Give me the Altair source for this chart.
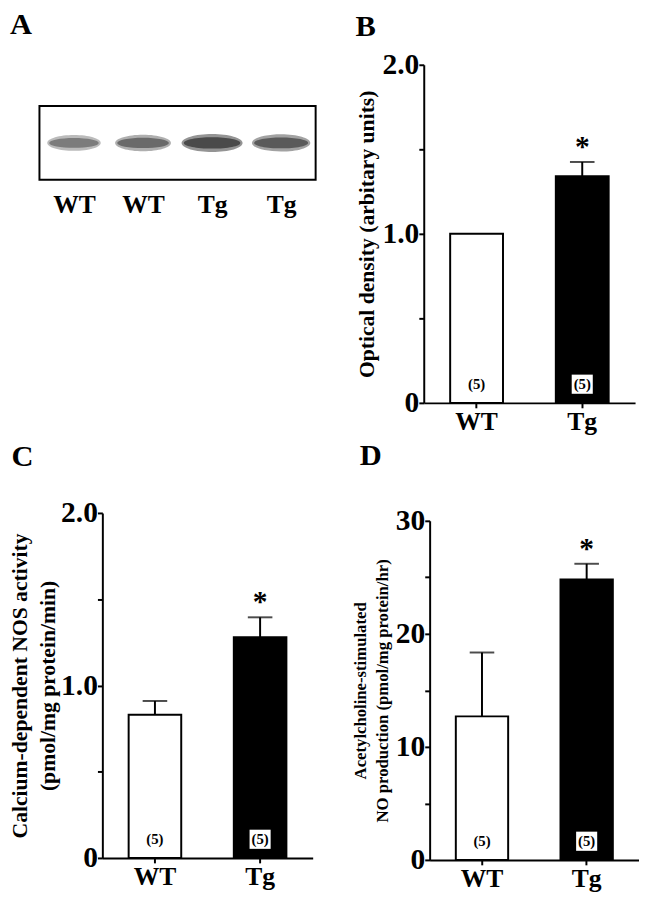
import json
import altair as alt
import pandas as pd

# ---------------- data ----------------
groups = ["WT", "Tg"]
n_labels = ["(5)", "(5)"]
sig_marks = ["", "*"]

od_mean = [1.00, 1.34]
od_sem = [0.00, 0.085]

nos_mean = [0.83, 1.28]
nos_sem = [0.08, 0.115]

no_mean = [12.7, 24.8]
no_sem = [5.65, 1.4]

lane_ids = [1, 2, 3, 4]
lane_labels = ["WT", "WT", "Tg", "Tg"]
band_density = [0.60, 0.72, 1.00, 0.85]

FONT = "Liberation Serif"


def letter_title(letter, dx=0, offset=10):
    return alt.TitleParams(letter, anchor="start", font=FONT, fontWeight="bold",
                           fontSize=31, color="black", dx=dx, offset=offset)


def bar_panel(letter, mean, sem, ymax, tick_vals, label_expr, ytitle, tsize, tlh,
              w, h, tpad, t_dx, t_off):
    df = pd.DataFrame({
        "group": groups,
        "mean": mean,
        "sem": sem,
        "top": [m + s for m, s in zip(mean, sem)],
        "n": n_labels,
        "sig": sig_marks,
    })
    xenc = alt.X("group:N", sort=groups,
                 scale=alt.Scale(paddingInner=0.5, paddingOuter=0.25),
                 axis=alt.Axis(title=None, labelAngle=0, labelFont=FONT,
                               labelFontWeight="bold", labelFontSize=26,
                               labelColor="black", domainColor="black",
                               domainWidth=2, tickColor="black", tickWidth=2,
                               tickSize=5, labelPadding=1))
    yscale = alt.Scale(domain=[0, ymax], nice=False)
    yaxis = alt.Axis(values=tick_vals, labelExpr=label_expr, title=ytitle,
                     titleFont=FONT, titleFontWeight="bold", titleFontSize=tsize,
                     titleLineHeight=tlh,
                     titleColor="black", titlePadding=tpad,
                     labelFont=FONT, labelFontWeight="bold", labelFontSize=30,
                     labelColor="black", labelPadding=0, labelOverlap=False,
                     domainColor="black", domainWidth=2, tickColor="black",
                     tickWidth=2, tickSize=5, grid=False)
    base = alt.Chart(df)
    bars = base.mark_bar(stroke="black", strokeWidth=2).encode(
        x=xenc,
        y=alt.Y("mean:Q", scale=yscale, axis=yaxis),
        fill=alt.Fill("group:N", scale=alt.Scale(domain=groups, range=["white", "black"]),
                      legend=None),
    )
    err = base.transform_filter("datum.sem > 0").mark_rule(color="black", strokeWidth=2).encode(
        x=xenc, y=alt.Y("mean:Q", scale=yscale, axis=yaxis), y2="top:Q")
    cap = base.transform_filter("datum.sem > 0").mark_tick(color="black", thickness=2, size=25).encode(
        x=xenc, y=alt.Y("top:Q", scale=yscale, axis=yaxis))
    box = base.transform_filter("datum.group == 'Tg'").mark_point(
        shape="M-1.1,-1L1.1,-1L1.1,1L-1.1,1Z", filled=True, fill="white",
        opacity=1, size=380, strokeWidth=0, yOffset=-19).encode(
        x=xenc, y=alt.Y(datum=0, scale=yscale, axis=yaxis))
    ntext = base.mark_text(font=FONT, fontWeight="bold", fontSize=15, color="black",
                           baseline="middle", dy=-19).encode(
        x=xenc, y=alt.Y(datum=0, scale=yscale, axis=yaxis), text="n:N")
    star = base.mark_text(font=FONT, fontWeight="bold", fontSize=30, color="black",
                          baseline="alphabetic", dy=-6).encode(
        x=xenc, y=alt.Y("top:Q", scale=yscale, axis=yaxis), text="sig:N")
    return alt.layer(bars, err, cap, box, ntext, star).properties(
        width=w, height=h, title=letter_title(letter, t_dx, t_off))


def spacer():
    return alt.Chart(pd.DataFrame({"v": [0]})).mark_point(
        opacity=0, size=0, strokeWidth=0).properties(width=1, height=1)


# ---------------- panel A : blot ----------------
bdf = pd.DataFrame({"lane": lane_ids, "label": lane_labels, "density": band_density})
xb = alt.X("lane:O", scale=alt.Scale(paddingInner=0, paddingOuter=0.2),
           axis=alt.Axis(title=None, labelAngle=0, domain=False, ticks=False,
                         labelExpr="%s[datum.value - 1]" % json.dumps(lane_labels),
                         labelFont=FONT, labelFontWeight="bold", labelFontSize=26,
                         labelColor="black", labelPadding=12))
size_enc = alt.Size("density:Q", scale=alt.Scale(domain=[0.5, 1.0], range=[2350, 3300]),
                    legend=None)
halo = alt.Chart(bdf).mark_point(
    shape="M-1.08,0A1.08,0.32,0,1,0,1.08,0A1.08,0.32,0,1,0,-1.08,0Z",
    filled=True, color="#5a5a5a", strokeWidth=0).encode(
    x=xb, size=size_enc,
    opacity=alt.Opacity("density:Q", scale=alt.Scale(domain=[0.5, 1.0], range=[0.35, 0.65]),
                        legend=None))
core = alt.Chart(bdf).mark_point(
    shape="M-1,0A1,0.2,0,1,0,1,0A1,0.2,0,1,0,-1,0Z",
    filled=True, color="#222222", strokeWidth=0).encode(
    x=xb, size=size_enc,
    opacity=alt.Opacity("density:Q", scale=alt.Scale(domain=[0.5, 1.0], range=[0.72, 0.95]),
                        legend=None))
blot = alt.layer(halo, core).properties(
    width=281, height=75, title=letter_title("A", -30, 66),
    view=alt.ViewBackground(stroke="black", strokeWidth=2))

# ---------------- panels B, C, D ----------------
expr_2 = "datum.value % 1 != 0 ? '' : (datum.value == 0 ? '0' : format(datum.value, '.1f'))"
expr_30 = "datum.value % 10 != 0 ? '' : format(datum.value, 'd')"

panel_b = bar_panel("B", od_mean, od_sem, 2.0, [0, 0.5, 1, 1.5, 2], expr_2,
                    "Optical density (arbitary units)", 22, 26, 215, 344, 4, 0, 7)
panel_c = bar_panel("C", nos_mean, nos_sem, 2.0, [0, 0.5, 1, 1.5, 2], expr_2,
                    ["Calcium-dependent NOS activity", "(pmol/mg protein/min)"], 22, 29,
                    214, 351, 1, 3, 26)
panel_d = bar_panel("D", no_mean, no_sem, 30, [0, 5, 10, 15, 20, 25, 30], expr_30,
                    ["Acetylcholine-stimulated", "NO production (pmol/mg protein/hr)"], 17, 22,
                    213, 345, 4, 8, 35)

row_a = alt.hconcat(spacer(), blot, spacing=-6)
row_c = alt.hconcat(spacer(), panel_c, spacing=-7)
inner_l = alt.vconcat(row_a, row_c, spacing=227)
col_l = alt.vconcat(spacer(), inner_l, spacing=-15)

row_b = alt.hconcat(spacer(), panel_b, spacing=38)
row_d = alt.hconcat(spacer(), panel_d, spacing=35)
inner_r = alt.vconcat(row_b, row_d, spacing=6)
col_r = alt.vconcat(spacer(), inner_r, spacing=-12)

chart = alt.hconcat(col_l, col_r, spacing=0).properties(
    padding={"top": -7, "left": 0, "right": 0, "bottom": 0}, background="white"
).configure_view(strokeWidth=0)

chart.save("out.html", embed_options={"renderer": "svg", "actions": False})
